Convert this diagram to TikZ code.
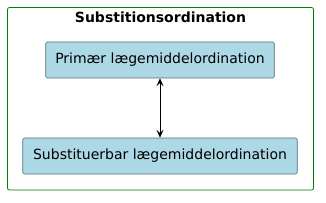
\documentclass[tikz,border=0pt]{standalone}
\usepackage{fontspec}
\setmainfont{DejaVu Sans}
\usetikzlibrary{arrows.meta}
\definecolor{boxfill}{HTML}{ADD8E6}
\definecolor{boxline}{HTML}{5A6A70}
\definecolor{framegreen}{HTML}{008000}
\begin{document}
\begin{tikzpicture}[x=1pt,y=-1pt,
  entity/.style={draw=boxline,fill=boxfill,rounded corners=1.5pt,line width=0.6pt,font=\fontsize{14}{16}\selectfont,inner sep=0pt},
  conn/.style={line width=0.8pt,{Stealth[length=8pt,width=7pt,inset=3.5pt]}-{Stealth[length=8pt,width=7pt,inset=3.5pt]}}]
\useasboundingbox (0,0) rectangle (326,203);
\draw[framegreen,line width=0.8pt,rounded corners=2pt] (7.5,7.5) rectangle (313.5,190);
\node[font=\bfseries\fontsize{14}{16}\selectfont] (title) at (160.5,17) {Substitionsordination};
\node[entity,minimum width=228.5pt,minimum height=36pt] (prim) at (160,60) {Primær lægemiddelordination};
\node[entity,minimum width=274.5pt,minimum height=36pt] (sub) at (160,156) {Substituerbar lægemiddelordination};
\draw[conn] (prim.south) -- (sub.north);
\end{tikzpicture}
\end{document}
